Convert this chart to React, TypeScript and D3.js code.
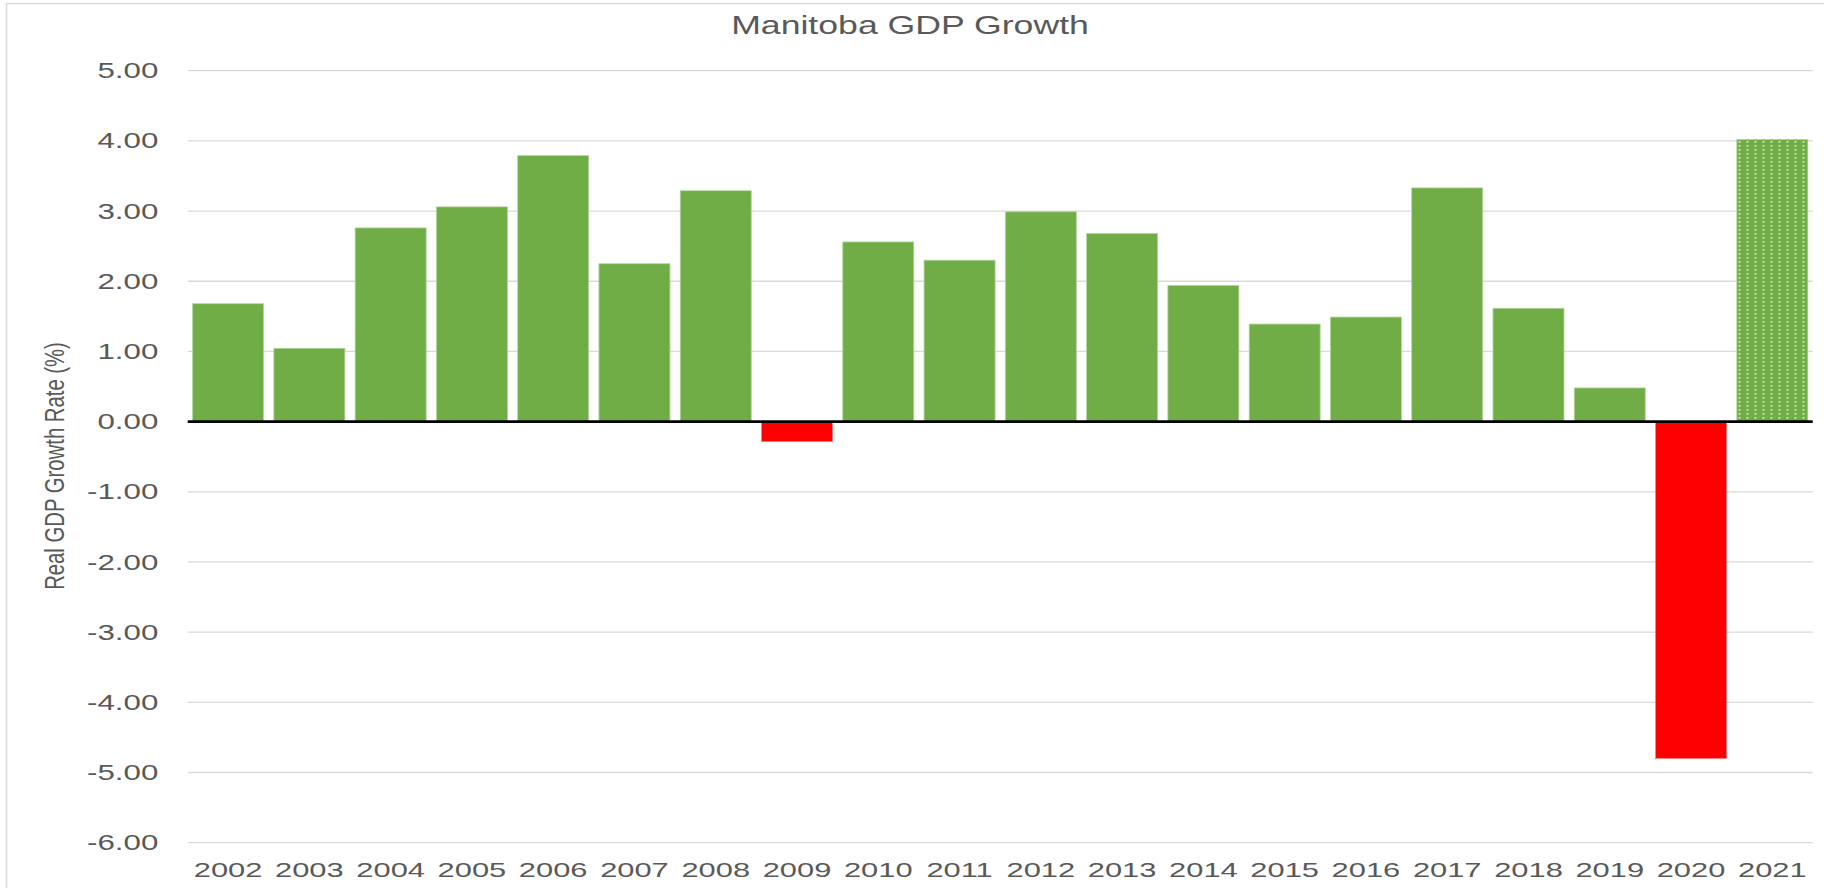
import React from "react";
import * as d3 from "d3";

const years = ["2002","2003","2004","2005","2006","2007","2008","2009","2010","2011","2012","2013","2014","2015","2016","2017","2018","2019","2020","2021"];
const growth = [1.68, 1.045, 2.76, 3.06, 3.79, 2.25, 3.29, -0.285, 2.56, 2.30, 2.99, 2.68, 1.94, 1.39, 1.49, 3.33, 1.615, 0.48, -4.80, 4.02];
const forecastYears = ["2021"];
const yTicks = [5, 4, 3, 2, 1, 0, -1, -2, -3, -4, -5, -6];
const title = "Manitoba GDP Growth";
const yLabel = "Real GDP Growth Rate (%)";

const W = 1824;
const H = 888;
const left = 187.7;
const right = 1812.7;
const SX = 1.47;
const FONT = "'Liberation Sans', Arial, sans-serif";
const TXT = "#595959";

export default function App() {
  const x = d3.scaleBand<string>().domain(years).range([left, right]).paddingInner(0.126).paddingOuter(0.06);
  const y = d3.scaleLinear().domain([-6, 5]).range([842.7, 70.7]);
  const y0 = y(0);

  return (
    <svg width={W} height={H} style={{ position: "absolute", left: 0, top: 0, background: "#fff" }}>
      <defs>
        <pattern id="dots" patternUnits="userSpaceOnUse" width={8} height={4}>
          <rect width={8} height={4} fill="#70AD47" />
          <rect x={2.5} y={1.2} width={2} height={1.3} fill="#ffffff" opacity={0.85} />
        </pattern>
      </defs>
      <rect x={6.5} y={3.5} width={W + 10} height={H + 10} fill="#fff" stroke="#d9d9d9" strokeWidth={1.5} />
      <text
        transform={`translate(910,33.5) scale(${SX * 0.97},1)`}
        textAnchor="middle"
        fontFamily={FONT}
        fontSize={25}
        fill={TXT}
      >
        {title}
      </text>
      {yTicks.map((t) => (
        <g key={t}>
          <line x1={left} x2={right} y1={y(t)} y2={y(t)} stroke="#d9d9d9" strokeWidth={1.3} />
          <text
            transform={`translate(158.3,${y(t) + 7.6}) scale(${SX},1)`}
            textAnchor="end"
            fontFamily={FONT}
            fontSize={21.3}
            fill={TXT}
          >
            {t.toFixed(2)}
          </text>
        </g>
      ))}
      {years.map((yr, i) => {
        const v = growth[i];
        const isF = forecastYears.includes(yr);
        const fill = v < 0 ? "#FF0000" : isF ? "url(#dots)" : "#70AD47";
        const stroke = v < 0 ? "#ff7f7f" : "#b5d79f";
        return (
          <rect
            key={yr}
            x={x(yr)}
            width={x.bandwidth()}
            y={Math.min(y(v), y0)}
            height={Math.abs(y(v) - y0)}
            fill={fill}
            stroke={stroke}
            strokeWidth={0.8}
          />
        );
      })}
      <line x1={left} x2={right} y1={y0} y2={y0} stroke="#000" strokeWidth={2.6} />
      {years.map((yr) => (
        <text
          key={yr}
          transform={`translate(${(x(yr) as number) + x.bandwidth() / 2},876.5) scale(${SX},1)`}
          textAnchor="middle"
          fontFamily={FONT}
          fontSize={21}
          fill={TXT}
        >
          {yr}
        </text>
      ))}
      <text
        transform={`translate(64,466) scale(1.35,1) rotate(-90)`}
        textAnchor="middle"
        fontFamily={FONT}
        fontSize={20.3}
        fill={TXT}
      >
        {yLabel}
      </text>
    </svg>
  );
}
